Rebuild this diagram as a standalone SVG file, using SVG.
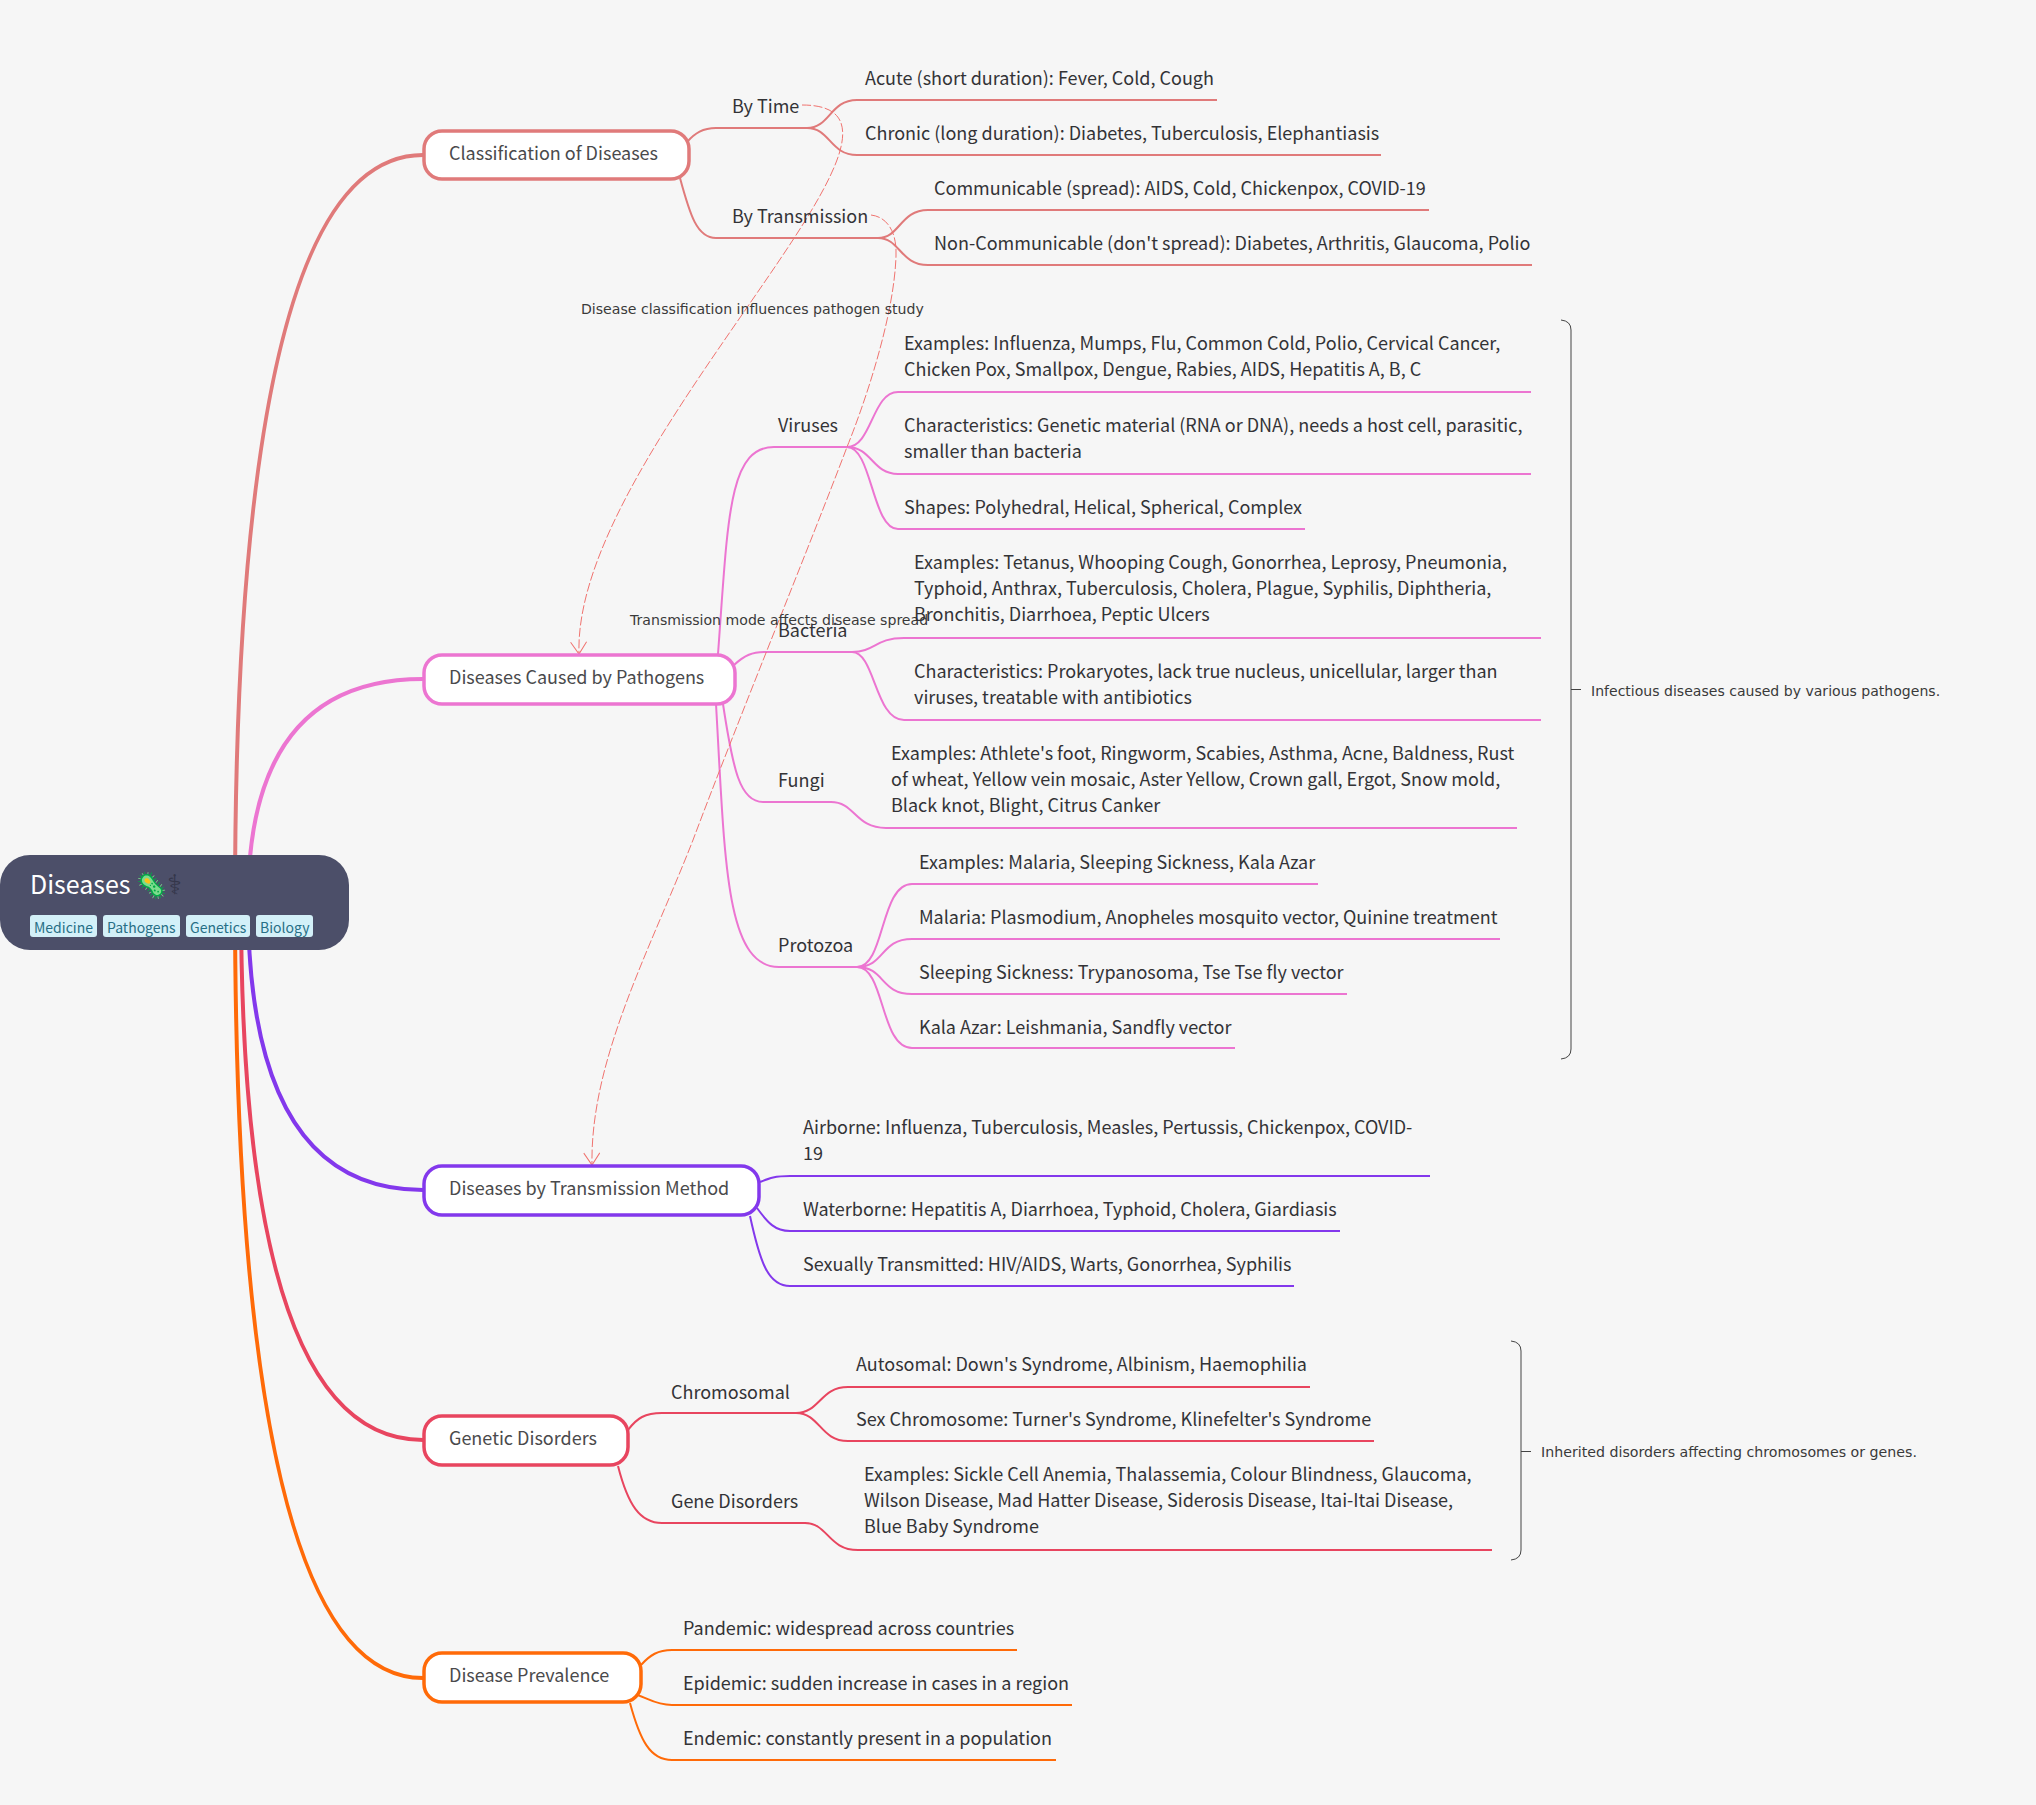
<svg xmlns="http://www.w3.org/2000/svg" width="2036" height="1805" viewBox="0 0 2036 1805">
<style>
text{font-family:"Noto Sans CJK SC","Noto Sans",sans-serif;font-size:18px;fill:#333336}
.n{fill:#fff;stroke-width:3.5}
.nt{fill:#4a4a4c}
.m{fill:none;stroke-width:4}
.l{fill:none;stroke-width:2}
.c1{stroke:#e07a7a}.c2{stroke:#ec75d1}.c3{stroke:#8338ec}.c4{stroke:#e8455f}.c5{stroke:#ff6a08}
.d{fill:none;stroke:#f0736f;stroke-width:1;stroke-dasharray:9 2.5}
.lb{font-family:"DejaVu Sans",sans-serif;font-size:14.1px;fill:#3a3a3a}
.br{fill:none;stroke:#444;stroke-width:1}
.tag{fill:#d3f0f8}
.tt{font-size:14px;fill:#276f86}
</style>
<defs><marker id="ah" markerWidth="18" markerHeight="18" refX="15" refY="8" orient="auto" markerUnits="userSpaceOnUse"><path d="M3,0L15,8L3,16" fill="none" stroke="#f0736f" stroke-width="1"/></marker></defs>
<rect width="2036" height="1805" fill="#f6f6f6"/>
<g id="connectors">
<path class="m c1" d="M235,902Q235,155 423,155"/>
<path class="m c2" d="M248,902Q248,679 423,679"/>
<path class="m c3" d="M248,902Q248,1190 423,1190"/>
<path class="m c4" d="M241,902Q241,1440 423,1440"/>
<path class="m c5" d="M235,902Q235,1678 423,1678"/>
<path class="l c1" d="M687,142C695,133 703,128 716,128L807,128"/>
<path class="l c1" d="M807,128C830,128 830,100 857,100L1217,100"/>
<path class="l c1" d="M807,128C830,128 830,155 857,155L1381,155"/>
<path class="l c1" d="M680,178C690,215 697,238 716,238L878,238"/>
<path class="l c1" d="M878,238C900,238 900,210 928,210L1429,210"/>
<path class="l c1" d="M878,238C900,238 900,265 928,265L1532,265"/>
<path class="l c2" d="M718,654C728,520 728,447 774,447L847,447"/>
<path class="l c2" d="M847,447C872,447 872,392 898,392L1531,392"/>
<path class="l c2" d="M847,447C872,447 872,474 898,474L1531,474"/>
<path class="l c2" d="M847,447C872,447 872,529 898,529L1305,529"/>
<path class="l c2" d="M734,665C745,655 752,652 766,652L852,652"/>
<path class="l c2" d="M852,652C875,652 875,638 904,638L1541,638"/>
<path class="l c2" d="M852,652C875,652 875,720 904,720L1541,720"/>
<path class="l c2" d="M723,704C733,770 740,802 763,802L831,802"/>
<path class="l c2" d="M831,802C855,802 855,828 886,828L1517,828"/>
<path class="l c2" d="M716,704C725,860 725,967 779,967L857,967"/>
<path class="l c2" d="M857,967C885,967 880,884 912,884L1318,884"/>
<path class="l c2" d="M857,967C885,967 880,939 912,939L1500,939"/>
<path class="l c2" d="M857,967C885,967 880,994 912,994L1347,994"/>
<path class="l c2" d="M857,967C885,967 880,1048 912,1048L1235,1048"/>
<path class="l c3" d="M760,1182C770,1178 775,1176 790,1176L1430,1176"/>
<path class="l c3" d="M757,1208C768,1223 775,1231 790,1231L1340,1231"/>
<path class="l c3" d="M750,1216C760,1262 768,1286 790,1286L1294,1286"/>
<path class="l c4" d="M628,1430C637,1418 645,1413 662,1413L796,1413"/>
<path class="l c4" d="M796,1413C820,1413 820,1387 848,1387L1310,1387"/>
<path class="l c4" d="M796,1413C820,1413 820,1441 848,1441L1374,1441"/>
<path class="l c4" d="M618,1466C628,1505 640,1523 662,1523L805,1523"/>
<path class="l c4" d="M805,1523C828,1523 828,1550 858,1550L1492,1550"/>
<path class="l c5" d="M641,1665C650,1655 658,1650 672,1650L1017,1650"/>
<path class="l c5" d="M637,1695C648,1698 655,1705 672,1705L1072,1705"/>
<path class="l c5" d="M630,1703C640,1740 650,1760 672,1760L1056,1760"/>
<path class="d" marker-end="url(#ah)" d="M802,105C968,105 572,450 579,654"/>
<path class="d" marker-end="url(#ah)" d="M871,215C888,217 897,233 896,256C894,320 862,410 847,447C810,545 740,715 693,840C650,950 590,1060 592,1165"/>
<path class="br" d="M1561,320Q1571,321 1571,330L1571,1049Q1571,1058 1561,1059M1571,689.5H1581"/>
<path class="br" d="M1511,1341Q1521,1342 1521,1351L1521,1550Q1521,1559 1511,1560M1521,1451.5H1531"/>
</g>
<text class="lb" x="581" y="314">Disease classification influences pathogen study</text>
<text class="lb" x="630" y="625">Transmission mode affects disease spread</text>
<g id="root">
<rect x="0" y="855" width="349" height="95" rx="30" fill="#4c4f69"/>
<text x="30" y="894" style="font-size:25px;fill:#fff">Diseases 🦠<tspan style="font-family:'DejaVu Sans',sans-serif;font-size:27px;fill:#34364a">&#x2695;&#xFE0E;</tspan></text>
<rect class="tag" x="30" y="915" width="67" height="22" rx="3"/><text class="tt" x="34" y="933">Medicine</text>
<rect class="tag" x="103" y="915" width="77" height="22" rx="3"/><text class="tt" x="107" y="933">Pathogens</text>
<rect class="tag" x="186" y="915" width="64" height="22" rx="3"/><text class="tt" x="190" y="933">Genetics</text>
<rect class="tag" x="256" y="915" width="57" height="22" rx="3"/><text class="tt" x="260" y="933">Biology</text>
</g>
<g id="classification">
<rect class="n c1" x="424" y="131" width="265" height="48" rx="18"/><text class="nt" x="449" y="160">Classification of Diseases</text>
<g id="by-time"><text x="732" y="113">By Time</text></g>
<g id="acute"><text x="865" y="85">Acute (short duration): Fever, Cold, Cough</text></g>
<g id="chronic"><text x="865" y="140">Chronic (long duration): Diabetes, Tuberculosis, Elephantiasis</text></g>
<g id="by-transmission"><text x="732" y="223">By Transmission</text></g>
<g id="communicable"><text x="934" y="195">Communicable (spread): AIDS, Cold, Chickenpox, COVID-19</text></g>
<g id="non-communicable"><text x="934" y="250">Non-Communicable (don't spread): Diabetes, Arthritis, Glaucoma, Polio</text></g>
</g>
<g id="pathogens">
<rect class="n c2" x="424" y="655" width="311" height="49" rx="18"/><text class="nt" x="449" y="684">Diseases Caused by Pathogens</text>
<g id="viruses"><text x="778" y="432">Viruses</text></g>
<g id="v1"><text x="904" y="350">Examples: Influenza, Mumps, Flu, Common Cold, Polio, Cervical Cancer,</text><text x="904" y="376">Chicken Pox, Smallpox, Dengue, Rabies, AIDS, Hepatitis A, B, C</text></g>
<g id="v2"><text x="904" y="432">Characteristics: Genetic material (RNA or DNA), needs a host cell, parasitic,</text><text x="904" y="458">smaller than bacteria</text></g>
<g id="v3"><text x="904" y="514">Shapes: Polyhedral, Helical, Spherical, Complex</text></g>
<g id="bacteria"><text x="778" y="637">Bacteria</text></g>
<g id="b1"><text x="914" y="569">Examples: Tetanus, Whooping Cough, Gonorrhea, Leprosy, Pneumonia,</text><text x="914" y="595">Typhoid, Anthrax, Tuberculosis, Cholera, Plague, Syphilis, Diphtheria,</text><text x="914" y="621">Bronchitis, Diarrhoea, Peptic Ulcers</text></g>
<g id="b2"><text x="914" y="678">Characteristics: Prokaryotes, lack true nucleus, unicellular, larger than</text><text x="914" y="704">viruses, treatable with antibiotics</text></g>
<g id="fungi"><text x="778" y="787">Fungi</text></g>
<g id="f1"><text x="891" y="760">Examples: Athlete's foot, Ringworm, Scabies, Asthma, Acne, Baldness, Rust</text><text x="891" y="786">of wheat, Yellow vein mosaic, Aster Yellow, Crown gall, Ergot, Snow mold,</text><text x="891" y="812">Black knot, Blight, Citrus Canker</text></g>
<g id="protozoa"><text x="778" y="952">Protozoa</text></g>
<g id="p1"><text x="919" y="869">Examples: Malaria, Sleeping Sickness, Kala Azar</text></g>
<g id="p2"><text x="919" y="924">Malaria: Plasmodium, Anopheles mosquito vector, Quinine treatment</text></g>
<g id="p3"><text x="919" y="979">Sleeping Sickness: Trypanosoma, Tse Tse fly vector</text></g>
<g id="p4"><text x="919" y="1034">Kala Azar: Leishmania, Sandfly vector</text></g>
<g id="note1"><text class="lb" x="1591" y="696" style="font-size:14.05px">Infectious diseases caused by various pathogens.</text></g>
</g>
<g id="transmission">
<rect class="n c3" x="424" y="1166" width="335" height="49" rx="18"/><text class="nt" x="449" y="1195">Diseases by Transmission Method</text>
<g id="t1"><text x="803" y="1134">Airborne: Influenza, Tuberculosis, Measles, Pertussis, Chickenpox, COVID-</text><text x="803" y="1160">19</text></g>
<g id="t2"><text x="803" y="1216">Waterborne: Hepatitis A, Diarrhoea, Typhoid, Cholera, Giardiasis</text></g>
<g id="t3"><text x="803" y="1271">Sexually Transmitted: HIV/AIDS, Warts, Gonorrhea, Syphilis</text></g>
</g>
<g id="genetic">
<rect class="n c4" x="424" y="1416" width="204" height="49" rx="18"/><text class="nt" x="449" y="1445">Genetic Disorders</text>
<g id="chromosomal"><text x="671" y="1399">Chromosomal</text></g>
<g id="g1"><text x="856" y="1371">Autosomal: Down's Syndrome, Albinism, Haemophilia</text></g>
<g id="g2"><text x="856" y="1426">Sex Chromosome: Turner's Syndrome, Klinefelter's Syndrome</text></g>
<g id="gene"><text x="671" y="1508">Gene Disorders</text></g>
<g id="g3"><text x="864" y="1481">Examples: Sickle Cell Anemia, Thalassemia, Colour Blindness, Glaucoma,</text><text x="864" y="1507">Wilson Disease, Mad Hatter Disease, Siderosis Disease, Itai-Itai Disease,</text><text x="864" y="1533">Blue Baby Syndrome</text></g>
<g id="note2"><text class="lb" x="1541" y="1457" style="font-size:14.2px">Inherited disorders affecting chromosomes or genes.</text></g>
</g>
<g id="prevalence">
<rect class="n c5" x="424" y="1653" width="217" height="49" rx="18"/><text class="nt" x="449" y="1682">Disease Prevalence</text>
<g id="d1"><text x="683" y="1635">Pandemic: widespread across countries</text></g>
<g id="d2"><text x="683" y="1690">Epidemic: sudden increase in cases in a region</text></g>
<g id="d3"><text x="683" y="1745">Endemic: constantly present in a population</text></g>
</g>
</svg>
